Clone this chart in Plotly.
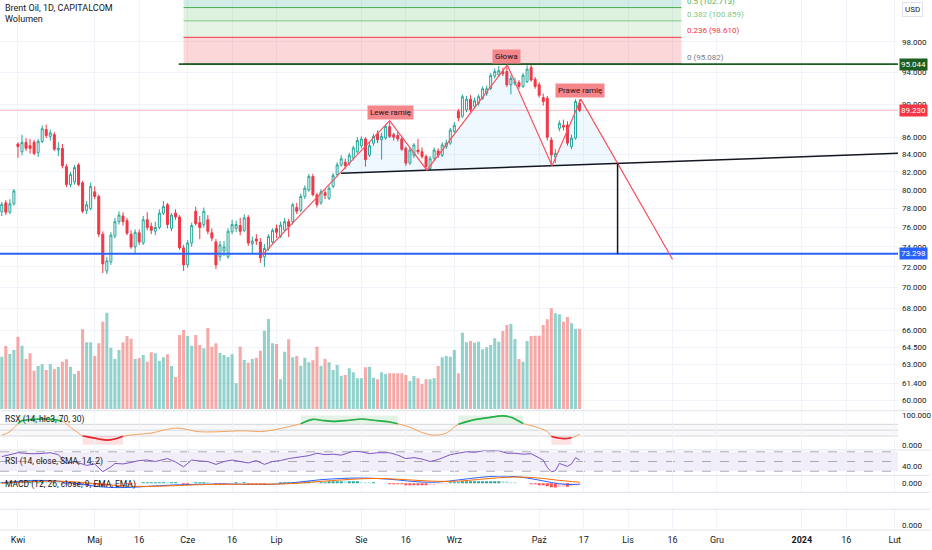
import math
import pandas as pd
import plotly.graph_objects as go

# ---------------- data ----------------
# daily bars, CAPITALCOM had no bar on Good Friday
bar_dates = [d for d in pd.bdate_range("2023-03-28", "2023-10-16")
             if d != pd.Timestamp("2023-04-07")]

opens = [77.66, 78.6, 77.6, 78.5,
         85.2, 84.3, 85.4, 85.0, 85.4, 84.2, 85.5, 86.9, 86.1, 86.3,
         84.5, 84.7, 82.6, 80.6, 80.9, 82.8, 80.8, 77.8, 78.0, 79.8,
         79.3, 75.3, 71.6, 72.5, 75.1, 76.6, 77.2, 76.7, 75.3, 74.0,
         75.45, 74.4, 76.8, 76.1, 75.6, 76.0, 77.5, 78.4, 75.9, 77.5,
         77.1, 73.9, 72.2, 74.4, 77.7, 76.5, 76.3, 76.8, 75.45, 74.5,
         73.0, 73.6, 73.0, 75.55, 75.9, 76.2, 75.7, 77.05, 74.3, 74.8,
         74.5, 73.0, 73.85, 74.5, 75.9, 75.1, 75.7, 76.6, 76.6, 78.1,
         77.8, 79.3, 80.0, 81.5, 79.45, 78.6, 79.7, 79.1, 80.4, 81.7,
         82.8, 83.1, 83.0, 83.6, 84.3, 85.0, 85.8, 83.9, 85.3, 86.4,
         85.7, 85.9, 87.25, 86.3, 86.2, 85.8, 84.7, 83.0, 83.9, 84.5,
         84.3, 83.75, 82.4, 83.55, 84.4, 83.9, 84.9, 85.3, 86.7, 89.1,
         88.5, 89.3, 90.6, 89.7, 90.1, 90.7, 91.3, 91.95, 93.5, 93.65,
         94.1, 94.1, 92.4, 92.6, 92.7, 92.2, 92.8, 94.6, 93.1, 92.4,
         90.8, 90.7, 85.67, 83.7, 87.05, 87.4, 87.45, 84.9, 85.9, 90.1]
highs = [78.7, 78.9, 79.0, 80.1,
         85.4, 86.3, 85.9, 85.8, 85.7, 85.8, 87.4, 87.5, 86.9, 86.6,
         85.4, 85.2, 82.9, 82.0, 82.8, 83.0, 81.0, 78.8, 80.8, 80.4,
         79.5, 75.6, 73.0, 75.5, 77.0, 77.7, 77.6, 77.0, 75.7, 75.8,
         75.8, 77.2, 77.6, 76.5, 76.6, 77.9, 78.8, 78.6, 77.5, 77.9,
         77.3, 74.2, 74.7, 76.5, 78.2, 77.2, 78.1, 77.3, 75.9, 74.8,
         74.6, 74.6, 75.9, 76.8, 76.7, 77.0, 77.4, 77.3, 75.05, 75.3,
         74.9, 74.3, 75.3, 75.9, 76.3, 76.6, 77.0, 76.9, 78.6, 78.6,
         79.6, 80.5, 81.8, 81.8, 79.7, 80.1, 80.1, 80.5, 81.9, 83.1,
         83.9, 83.5, 84.2, 85.0, 86.0, 86.1, 86.0, 85.4, 86.4, 86.8,
         86.5, 87.5, 87.9, 86.5, 86.6, 86.0, 84.9, 84.8, 85.3, 85.8,
         84.8, 84.0, 83.8, 84.8, 84.7, 85.4, 85.7, 87.1, 87.8, 89.4,
         91.2, 91.0, 91.1, 90.8, 91.2, 92.2, 92.3, 93.9, 94.5, 94.8,
         94.6, 95.0, 93.6, 93.3, 93.0, 93.9, 94.9, 95.05, 93.4, 92.7,
         91.3, 91.0, 86.0, 84.6, 88.0, 88.1, 87.9, 86.3, 90.6, 90.6]
lows = [77.2, 77.3, 77.4, 78.3,
        83.6, 83.9, 84.4, 84.1, 83.9, 83.7, 85.3, 85.9, 85.6, 84.4,
        83.8, 82.4, 80.3, 80.3, 80.6, 80.4, 77.5, 77.4, 77.8, 79.0,
        75.0, 71.4, 71.3, 72.2, 74.9, 76.3, 76.2, 75.2, 73.8, 73.35,
        74.2, 74.2, 75.7, 75.3, 75.2, 75.8, 77.3, 75.9, 75.6, 76.8,
        73.7, 71.6, 71.9, 74.0, 76.2, 74.8, 76.0, 75.3, 74.6, 71.8,
        72.6, 73.1, 72.8, 75.3, 75.5, 75.2, 75.5, 74.1, 73.35, 74.2,
        72.4, 72.0, 73.6, 74.3, 74.9, 74.9, 75.5, 75.0, 76.3, 77.4,
        77.6, 79.0, 79.8, 79.3, 78.1, 78.4, 79.0, 78.9, 80.2, 81.5,
        82.6, 82.3, 82.7, 83.3, 84.1, 84.7, 82.6, 83.7, 85.0, 85.3,
        83.4, 85.7, 85.9, 85.6, 85.5, 84.4, 82.7, 82.8, 83.6, 84.0,
        83.5, 82.1, 82.2, 83.3, 83.6, 83.7, 84.6, 85.1, 86.5, 87.9,
        88.3, 89.0, 89.0, 89.4, 89.8, 90.5, 91.0, 91.7, 93.2, 93.4,
        93.5, 92.1, 91.2, 92.3, 91.9, 92.0, 92.6, 92.8, 91.9, 90.8,
        89.8, 85.6, 82.8, 83.0, 86.7, 86.8, 85.0, 84.6, 85.7, 89.0]
closes = [78.45, 77.6, 78.5, 79.9,
          84.9, 85.4, 84.7, 84.7, 84.1, 85.5, 87.0, 86.2, 86.5, 84.6,
          84.7, 82.7, 80.6, 81.7, 82.5, 80.6, 77.7, 78.4, 80.4, 79.3,
          75.3, 72.3, 72.6, 75.2, 76.6, 77.3, 76.6, 75.4, 74.0, 75.5,
          74.5, 76.8, 76.0, 75.7, 76.0, 77.5, 78.2, 76.3, 77.3, 77.1,
          73.9, 72.2, 74.4, 76.2, 76.4, 76.0, 77.7, 75.6, 74.9, 72.2,
          74.2, 74.0, 75.6, 76.3, 76.3, 75.6, 77.0, 74.4, 74.6, 74.6,
          72.9, 73.85, 75.05, 75.7, 75.5, 76.25, 76.6, 76.1, 78.4, 77.7,
          79.3, 80.2, 81.5, 79.5, 78.4, 79.8, 79.4, 80.2, 81.6, 82.8,
          83.5, 82.7, 83.9, 84.75, 85.6, 85.8, 83.4, 85.0, 86.1, 85.7,
          86.1, 87.3, 86.1, 86.0, 85.8, 84.6, 83.0, 84.5, 85.1, 84.3,
          83.75, 82.6, 83.5, 84.5, 83.9, 85.1, 85.3, 86.85, 87.4, 88.3,
          90.9, 90.6, 89.3, 90.4, 90.9, 91.9, 91.9, 93.6, 94.1, 94.2,
          93.8, 92.4, 93.2, 92.8, 92.2, 93.6, 94.4, 93.0, 92.2, 91.1,
          90.3, 86.0, 83.93, 84.1, 87.65, 87.2, 85.3, 85.9, 90.3, 89.23]
volumes_k = [52.3, 63.0, 55.0, 59.0,
             72.3, 63.3, 50.0, 55.7, 38.3, 43.0, 44.7, 39.0, 44.7, 40.0,
             42.0, 47.3, 49.7, 42.3, 35.0, 38.0, 79.7, 66.7, 66.7, 53.0,
             65.7, 87.3, 96.3, 61.3, 50.0, 59.0, 66.7, 73.0, 70.3, 50.0,
             50.7, 54.0, 47.3, 56.7, 55.7, 48.0, 51.7, 54.7, 43.0, 32.0,
             74.0, 79.0, 73.0, 63.3, 74.0, 64.0, 60.7, 81.0, 62.3, 65.7,
             56.3, 54.0, 52.0, 54.7, 25.7, 62.3, 49.0, 46.3, 50.0, 51.3,
             58.3, 78.3, 90.0, 65.7, 65.0, 29.7, 57.3, 69.7, 51.7, 53.0,
             43.3, 51.3, 46.7, 48.7, 62.3, 43.3, 50.0, 46.7, 39.0, 44.0,
             33.3, 34.0, 40.7, 36.7, 30.7, 30.7, 41.7, 42.3, 31.3, 29.7,
             36.7, 35.0, 35.7, 35.7, 35.7, 35.7, 34.0, 28.0, 33.0, 30.7,
             25.0, 29.7, 29.7, 30.7, 43.0, 51.7, 53.0, 52.3, 59.0, 35.7,
             76.3, 66.7, 68.0, 66.3, 67.3, 59.7, 61.7, 64.0, 70.7, 67.3,
             78.0, 84.0, 85.0, 70.0, 50.0, 47.3, 68.0, 73.0, 73.3, 73.3,
             84.0, 89.7, 100.7, 95.7, 94.7, 87.3, 92.0, 85.7, 80.0, 80.0]

# indicator readings (bar number -> value)
rsx_bar = [0, 2, 4, 5, 7, 10, 13, 15, 17, 19, 20, 21, 24, 26, 28, 30, 33, 37,
           40, 43, 45, 48, 51, 56, 60, 64, 67, 71, 74, 77, 79, 82, 86, 89, 92,
           96, 98, 101, 104, 107, 110, 113, 117, 120, 124, 126, 129, 132, 135,
           136, 137, 139, 141, 143]
rsx_val = [33, 45, 72, 82, 86, 88, 86, 80, 60, 40, 30, 28, 20, 16, 20, 29, 35, 40,
           50, 57, 55, 46, 44, 46, 48, 45, 50, 62, 72, 87, 84, 80, 84, 88, 84,
           78, 72, 60, 42, 33, 40, 70, 86, 92, 99, 94, 73, 62, 45,
           29, 25, 21, 24, 36]
rsi_bar = [0, 2, 4, 7, 9, 12, 14, 16, 18, 21, 23, 25, 27, 28, 30, 32, 34, 36,
           38, 41, 43, 45, 47, 49, 51, 53, 55, 57, 59, 61, 63, 65, 67, 69, 71,
           74, 76, 78, 80, 82, 84, 87, 89, 91, 93, 96, 98, 100, 102, 104, 106,
           108, 111, 113, 115, 117, 120, 123, 125, 127, 129, 131, 133, 134,
           135, 136, 137, 138, 139, 140, 141, 142, 143]
rsi_val = [60, 64, 68, 66, 66, 68, 64, 46, 50, 42, 45, 29, 39, 46, 45, 48, 52, 53,
           50, 56, 49, 39, 53, 51, 50, 44, 50, 53, 50, 47, 52, 44, 50, 52, 56,
           60, 62, 67, 64, 65, 63, 71, 70, 66, 68, 68, 63, 56, 58, 55, 50,
           54, 64, 67, 70, 69, 73, 72, 67, 67, 65, 66, 58, 53,
           38, 29, 31, 46, 43, 40, 45, 58, 53]
macd_bar = [0, 4, 9, 14, 19, 24, 29, 34, 39, 44, 49, 56, 64, 69, 74, 79, 84, 88,
            93, 98, 103, 108, 113, 118, 123, 127, 130, 134, 138, 142, 143]
macd_val = [0.2, 0.8, 1.2, 0.9, -0.2, -1.4, -1.8, -1.5, -1.0, -0.6, -0.4, -0.3,
            -0.5, -0.2, 0.6, 1.5, 2.0, 2.2, 2.0, 1.4, 0.6, 0.5, 1.4, 2.4, 3.0,
            2.8, 2.2, 1.0, -0.2, -0.5, -0.4]
signal_val = [0.0, 0.4, 0.8, 0.9, 0.5, -0.3, -1.0, -1.3, -1.2, -0.9, -0.6, -0.4,
              -0.4, -0.3, 0.1, 0.8, 1.4, 1.8, 2.0, 1.7, 1.2, 0.8, 0.9, 1.6, 2.3,
              2.6, 2.5, 2.0, 1.2, 0.6, 0.4]
macd_hist = [0.1, 0.1, 0.2, 0.2,
             0.4, 0.5, 0.5, 0.5, 0.4, 0.4, 0.5, 0.4, 0.3, 0.2,
             0.1, -0.1, -0.3, -0.4, -0.5, -0.6, -0.8, -0.9, -0.8, -0.8,
             -1.0, -1.2, -1.1, -0.8, -0.5, -0.3, -0.2, -0.2, -0.2, -0.1,
             0.0, 0.1, 0.1, 0.1, 0.1, 0.2, 0.3, 0.2, 0.2, 0.2,
             0.0, -0.1, -0.1, 0.0, 0.1, 0.1, 0.2, 0.1, 0.0, -0.2,
             -0.2, -0.2, -0.1, 0.0, 0.1, 0.0, 0.1, -0.1, -0.1, -0.2,
             -0.3, -0.3, -0.2, -0.1, 0.0, 0.1, 0.2, 0.2, 0.3, 0.3,
             0.4, 0.5, 0.6, 0.5, 0.4, 0.4, 0.4, 0.5, 0.6, 0.6,
             0.6, 0.5, 0.5, 0.5, 0.5, 0.4, 0.2, 0.1, 0.1, 0.0,
             0.0, 0.0, -0.1, -0.2, -0.3, -0.4, -0.6, -0.6, -0.6, -0.6,
             -0.6, -0.7, -0.6, -0.5, -0.4, -0.3, -0.1, 0.1, 0.3, 0.4,
             0.6, 0.7, 0.7, 0.7, 0.8, 0.8, 0.8, 0.8, 0.8, 0.8,
             0.7, 0.5, 0.4, 0.2, 0.0, 0.0, 0.0, -0.1, -0.3, -0.5,
             -0.8, -1.2, -1.6, -1.7, -1.5, -1.4, -1.4, -1.2, -0.9, -0.8]

# drawings on the price pane
pattern_dates = ["2023-06-28 00:00", "2023-08-10 12:00", "2023-08-23 16:48",
                 "2023-09-20 14:24", "2023-10-05 16:48", "2023-10-16 19:12",
                 "2023-11-16 12:00"]
pattern_prices = [73.2, 87.97, 82.2, 94.95, 82.7, 90.6, 72.75]
pattern_names = ["Lewe ramię", "Głowa", "Prawe ramię"]
pattern_label_dates = ["2023-08-10 14:24", "2023-09-20 09:36", "2023-10-16 14:24"]
pattern_label_prices = [88.96, 96.0, 91.68]
neck_dates = ["2023-07-25 12:00", "2024-02-02 12:00"]
neck_prices = [81.85, 84.12]
break_date = "2023-10-27 21:36"
break_price = 82.96
target_price = 73.298
resistance_price = 95.044
resistance_from = "2023-05-30 07:12"

fib_ratios = ["0", "0.236", "0.382", "0.5", "0.618"]
fib_prices = [95.082, 98.610, 100.859, 102.713, 104.6]
fib_dates = ["2023-05-31 12:00", "2023-11-20 16:48"]

price_ticks = [60, 61.4, 63, 64.5, 66, 68, 70, 72, 74, 76, 78, 80, 82, 84, 86, 90, 94, 98]
date_ticks = ["2023-04-03", "2023-05-01", "2023-05-16", "2023-06-01", "2023-06-16",
              "2023-07-03", "2023-08-01", "2023-08-16", "2023-09-01", "2023-10-02",
              "2023-10-17", "2023-11-01", "2023-11-16", "2023-12-01", "2024-01-01",
              "2024-01-16", "2024-02-01"]
date_labels = ["Kwi", "Maj", "16", "Cze", "16", "Lip", "Sie", "16", "Wrz", "Paź",
               "17", "Lis", "16", "Gru", "<b>2024</b>", "16", "Lut"]

for arr in (opens, highs, lows, closes, volumes_k, macd_hist):
    assert len(arr) == len(bar_dates)

# ---------------- layout geometry (pixels of the 932x550 page) ----------------
FIG_W, FIG_H = 932, 550
PLOT_W, PLOT_H = 900, 530
PANE_EDGES = [410.7, 450, 475.3, 492.3, 509.3, 530]
FONT = "Roboto"
TXT = "#131722"
GREEN, RED = "#26a69a", "#f23645"


def py(pix):
    return 1 - pix / PLOT_H


half_day = pd.Timedelta(hours=12)
bar_x = [d + half_day for d in bar_dates]
x_range = ["2023-03-28 01:26", "2024-02-02 07:12"]
far_left, far_right = "2023-03-20", "2024-02-12"

fig = go.Figure()

# fib retracement zones + lines
zone_colors = ["rgba(242,54,69,0.2)", "rgba(129,199,132,0.2)",
               "rgba(76,175,80,0.18)", "rgba(8,153,129,0.18)"]
for i in range(len(fib_prices) - 1):
    fig.add_trace(go.Scatter(
        x=[fib_dates[0], fib_dates[1], fib_dates[1], fib_dates[0]],
        y=[fib_prices[i], fib_prices[i], fib_prices[i + 1], fib_prices[i + 1]],
        fill="toself", fillcolor=zone_colors[i], line=dict(width=0),
        mode="lines", hoverinfo="skip"))
fib_line_colors = ["#787b86", "#f23645", "#81c784", "#4caf50", "#089981"]
for p, c in zip(fib_prices, fib_line_colors):
    fig.add_trace(go.Scatter(x=fib_dates, y=[p, p], mode="lines",
                             line=dict(color=c, width=1), hoverinfo="skip"))

# head & shoulders area
poly_x = [neck_dates[0]] + pattern_dates[1:6] + [break_date]
poly_y = [neck_prices[0]] + pattern_prices[1:6] + [break_price]
fig.add_trace(go.Scatter(x=poly_x, y=poly_y, fill="toself",
                         fillcolor="rgba(33,150,243,0.07)", line=dict(width=0),
                         mode="lines", hoverinfo="skip"))

# candles
fig.add_trace(go.Candlestick(
    x=bar_x, open=opens, high=highs, low=lows, close=closes,
    increasing=dict(line=dict(color=GREEN, width=1), fillcolor="rgba(255,255,255,0)"),
    decreasing=dict(line=dict(color=RED, width=1), fillcolor=RED),
    whiskerwidth=0, hoverinfo="skip"))

# horizontal lines
fig.add_trace(go.Scatter(x=[far_left, far_right], y=[closes[-1]] * 2, mode="lines",
                         line=dict(color="rgba(242,54,69,0.35)", width=1), hoverinfo="skip"))
fig.add_trace(go.Scatter(x=[resistance_from, far_right], y=[resistance_price] * 2,
                         mode="lines", line=dict(color="#1b5e20", width=1.8), hoverinfo="skip"))
fig.add_trace(go.Scatter(x=[far_left, far_right], y=[target_price] * 2, mode="lines",
                         line=dict(color="#2962ff", width=2), hoverinfo="skip"))

# neckline, pattern zigzag, target measure
fig.add_trace(go.Scatter(x=neck_dates, y=neck_prices, mode="lines",
                         line=dict(color="#131722", width=1.5), hoverinfo="skip"))
fig.add_trace(go.Scatter(x=pattern_dates, y=pattern_prices, mode="lines",
                         line=dict(color="#f5555f", width=1.2), hoverinfo="skip"))
fig.add_trace(go.Scatter(x=[break_date, break_date], y=[break_price, target_price],
                         mode="lines", line=dict(color="#131722", width=1.5),
                         hoverinfo="skip"))

# volume overlay
vol_colors = ["rgba(38,166,154,0.5)" if c >= o else "rgba(239,83,80,0.5)"
              for o, c in zip(opens, closes)]
fig.add_trace(go.Bar(x=bar_x, y=volumes_k, marker=dict(color=vol_colors, line=dict(width=0)),
                     yaxis="y2", hoverinfo="skip"))

# RSX
rsx_x = [bar_x[i] for i in rsx_bar]
fig.add_trace(go.Scatter(x=rsx_x, y=rsx_val, mode="lines", yaxis="y3",
                         line=dict(color="#f5a25d", width=1, shape="spline"),
                         hoverinfo="skip"))
fig.add_trace(go.Scatter(x=rsx_x, y=[v if v >= 70 else None for v in rsx_val],
                         mode="lines", yaxis="y3",
                         line=dict(color="#22b14c", width=1.6, shape="spline"),
                         hoverinfo="skip"))
fig.add_trace(go.Scatter(x=rsx_x, y=[v if v <= 30 else None for v in rsx_val],
                         mode="lines", yaxis="y3",
                         line=dict(color="#e3262f", width=1.6, shape="spline"),
                         hoverinfo="skip"))

# RSI
fig.add_trace(go.Scatter(x=[bar_x[i] for i in rsi_bar], y=rsi_val, mode="lines",
                         yaxis="y4", line=dict(color="#7e57c2", width=1),
                         hoverinfo="skip"))

# MACD
hist_colors = []
for j, h in enumerate(macd_hist):
    prev = macd_hist[j - 1] if j else h
    if h >= 0:
        hist_colors.append("#26a69a" if h >= prev else "#b2dfdb")
    else:
        hist_colors.append("#ff5252" if h <= prev else "#ffcdd2")
fig.add_trace(go.Bar(x=bar_x, y=macd_hist, marker=dict(color=hist_colors, line=dict(width=0)),
                     yaxis="y5", hoverinfo="skip"))
macd_x = [bar_x[i] for i in macd_bar]
fig.add_trace(go.Scatter(x=macd_x, y=macd_val, mode="lines", yaxis="y5",
                         line=dict(color="#2962ff", width=1, shape="spline"),
                         hoverinfo="skip"))
fig.add_trace(go.Scatter(x=macd_x, y=signal_val, mode="lines", yaxis="y5",
                         line=dict(color="#ff6d00", width=1, shape="spline"),
                         hoverinfo="skip"))
fig.add_trace(go.Scatter(x=[], y=[], yaxis="y6", hoverinfo="skip"))

# ---------------- shapes ----------------
shapes = []
for edge in PANE_EDGES:
    shapes.append(dict(type="line", xref="paper", yref="paper", x0=0,
                       x1=FIG_W / PLOT_W, y0=py(edge), y1=py(edge),
                       line=dict(color="#e0e3eb", width=1)))
# RSX band + overbought / oversold backgrounds
shapes.append(dict(type="rect", xref="paper", yref="y3", x0=0, x1=1, y0=30, y1=70,
                   fillcolor="rgba(149,152,161,0.06)", line=dict(width=0), layer="below"))
for lvl in (70, 50, 30):
    shapes.append(dict(type="line", xref="paper", yref="y3", x0=0, x1=1, y0=lvl, y1=lvl,
                       line=dict(color="#d6d8de", width=1), layer="below"))


def runs(flags):
    out, start = [], None
    for j, f in enumerate(flags):
        if f and start is None:
            start = j
        if not f and start is not None:
            out.append((start, j - 1))
            start = None
    if start is not None:
        out.append((start, len(flags) - 1))
    return out


for a, b in runs([v >= 70 for v in rsx_val]):
    shapes.append(dict(type="rect", xref="x", yref="y3", x0=rsx_x[a], x1=rsx_x[b],
                       y0=70, y1=100, fillcolor="rgba(76,175,80,0.15)",
                       line=dict(width=0), layer="below"))
for a, b in runs([v <= 30 for v in rsx_val]):
    shapes.append(dict(type="rect", xref="x", yref="y3", x0=rsx_x[a], x1=rsx_x[b],
                       y0=0, y1=30, fillcolor="rgba(242,54,69,0.15)",
                       line=dict(width=0), layer="below"))
# RSI band
shapes.append(dict(type="rect", xref="paper", yref="y4", x0=0, x1=1, y0=30, y1=70,
                   fillcolor="rgba(126,87,194,0.1)", line=dict(width=0), layer="below"))
for lvl in (70, 50, 30):
    shapes.append(dict(type="line", xref="paper", yref="y4", x0=0, x1=1, y0=lvl, y1=lvl,
                       line=dict(color="rgba(120,123,134,0.6)", width=1, dash="dash"),
                       layer="below"))

# ---------------- annotations ----------------
ann = []


def text(x, y, s, size=9, color=TXT, xanchor="left", **kw):
    ann.append(dict(xref="paper", yref="paper", x=x, y=y, text=s, showarrow=False,
                    xanchor=xanchor, yanchor="middle",
                    font=dict(family=FONT, size=size, color=color), **kw))


text(0.003, py(8), "Brent Oil, 1D, CAPITALCOM", size=9)
text(0.003, py(19), "Wolumen", size=9)
text(0.003, py(419.5), "RSX (14, hlc3, 70, 30)", size=8.5)
text(0.003, py(461), "RSI (14, close, SMA, 14, 2)", size=8.5)
text(0.003, py(484), "MACD (12, 26, close, 9, EMA, EMA)", size=8.5)
text(915 / PLOT_W, py(9.5), "USD", size=8, xanchor="center",
     bgcolor="#ffffff", bordercolor="#e0e3eb", borderwidth=1, borderpad=2)

# fib labels
for r, p, c in zip(fib_ratios, fib_prices, fib_line_colors):
    if p > 103.7:
        continue
    ann.append(dict(xref="x", yref="y", x=fib_dates[1], y=math.log10(p),
                    text=f"{r} ({p:.3f})", showarrow=False, xanchor="left",
                    yanchor="bottom", xshift=4, yshift=0,
                    font=dict(family=FONT, size=8, color=c)))

# pattern labels
for name, d, p in zip(pattern_names, pattern_label_dates, pattern_label_prices):
    ann.append(dict(xref="x", yref="y", x=d, y=math.log10(p), text=name,
                    showarrow=False, xanchor="center", yanchor="middle",
                    bgcolor="#f4868c", borderpad=2,
                    font=dict(family=FONT, size=8, color="#2a1215")))

# price badges
for p, bg in ((resistance_price, "#1b5e20"), (closes[-1], RED), (target_price, "#2962ff")):
    ann.append(dict(xref="paper", yref="y", x=1.0, y=math.log10(p), text=f"{p:.3f}",
                    showarrow=False, xanchor="left", yanchor="middle", xshift=1,
                    bgcolor=bg, borderpad=1,
                    font=dict(family=FONT, size=8, color="#ffffff")))

axis_font = dict(family=FONT, size=8, color=TXT)
price_lo = 60 * math.exp(-(PANE_EDGES[0] - 400) / 730)
price_hi = 60 * math.exp(400 / 730)

fig.update_layout(
    width=FIG_W, height=FIG_H,
    margin=dict(l=0, r=FIG_W - PLOT_W, t=0, b=FIG_H - PLOT_H),
    paper_bgcolor="#ffffff", plot_bgcolor="#ffffff",
    showlegend=False, hovermode=False, bargap=0.25,
    font=dict(family=FONT, color=TXT),
    shapes=shapes, annotations=ann,
    xaxis=dict(type="date", range=x_range, anchor="y6",
               rangebreaks=[dict(bounds=["sat", "mon"]), dict(values=["2023-04-07"])],
               tickvals=[pd.Timestamp(t) + half_day for t in date_ticks],
               ticktext=date_labels, ticks="", showgrid=True, gridcolor="#f0f3fa",
               zeroline=False, showline=False, rangeslider=dict(visible=False),
               tickfont=dict(family=FONT, size=9, color=TXT), ticklabelstandoff=3),
    yaxis=dict(type="log", domain=[py(PANE_EDGES[0]), 1],
               range=[math.log10(price_lo), math.log10(price_hi)],
               side="right", anchor="x", tickvals=price_ticks, tickformat=".3f",
               ticks="", showgrid=True, gridcolor="#f0f3fa", zeroline=False,
               tickfont=axis_font, ticklabelstandoff=3),
    yaxis2=dict(overlaying="y", anchor="x", range=[-1.7, 409], visible=False),
    yaxis3=dict(domain=[py(PANE_EDGES[1]), py(PANE_EDGES[0])], range=[-17.8, 116.6],
                side="right", anchor="x", tickvals=[0, 100], ticktext=["0.000", "100.000"],
                ticks="", showgrid=False, zeroline=False, tickfont=axis_font,
                ticklabelstandoff=3),
    yaxis4=dict(domain=[py(PANE_EDGES[2]), py(PANE_EDGES[1])], range=[21.7, 73.6],
                side="right", anchor="x", tickvals=[40], ticktext=["40.00"],
                ticks="", showgrid=False, zeroline=False, tickfont=axis_font,
                ticklabelstandoff=3),
    yaxis5=dict(domain=[py(PANE_EDGES[3]), py(PANE_EDGES[2])], range=[-3.75, 3.33],
                side="right", anchor="x", tickvals=[0], ticktext=["0.000"],
                ticks="", showgrid=False, zeroline=False, tickfont=axis_font,
                ticklabelstandoff=3),
    yaxis6=dict(domain=[0, py(PANE_EDGES[4])], range=[-0.2415, 0.7585],
                side="right", anchor="x", tickvals=[0], ticktext=["0.000"],
                ticks="", showgrid=False, zeroline=False, tickfont=axis_font,
                ticklabelstandoff=3),
)

# the page's default body margin would push the chart off the window
fig.write_html("out.html", config={"displayModeBar": False},
               post_script="document.body.style.margin='0';")
